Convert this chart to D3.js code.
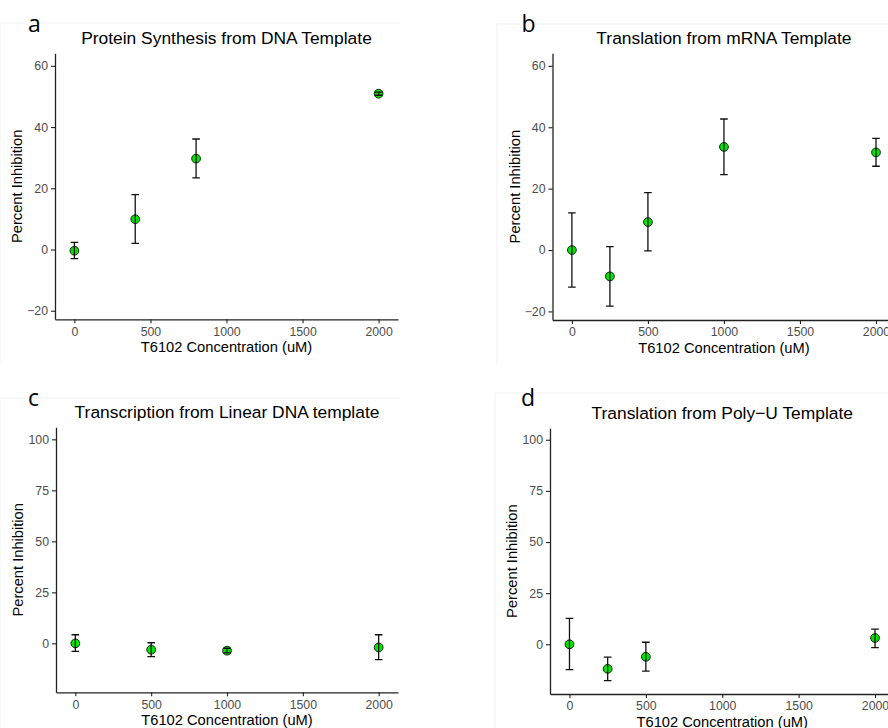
<!DOCTYPE html>
<html>
<head>
<meta charset="utf-8">
<title>T6102 inhibition</title>
<script src="https://cdn.jsdelivr.net/npm/d3@7"></script>
<style>
body { margin: 0; background: #fff; }
svg { display: block; font-family: "Liberation Sans", Arial, sans-serif; }
.tick text { fill: #4d4d4d; font-size: 12.3px; }
.tick line, .domain { stroke: #222; }
</style>
</head>
<body>
<svg id="fig" width="888" height="728"></svg>
<script>
// x ticks and y ticks
var xTicks = [0, 500, 1000, 1500, 2000];
var yTicksTop = [-20, 0, 20, 40, 60];
var yTicksBottom = [0, 25, 50, 75, 100];

// a: Protein Synthesis from DNA Template
var doseA = [0, 400, 800, 2000];
var meanA = [-0.4, 9.9, 29.7, 50.9];
var lowA  = [-3.0, 2.0, 23.4, 50.4];
var highA = [2.3, 17.9, 36.1, 51.4];

// b: Translation from mRNA Template
var doseB = [0, 250, 500, 1000, 2000];
var meanB = [0, -8.6, 9.1, 33.6, 31.8];
var lowB  = [-12.1, -18.3, -0.3, 24.6, 27.3];
var highB = [12.1, 1.1, 18.7, 42.7, 36.4];

// c: Transcription from Linear DNA template
var doseC = [0, 500, 1000, 2000];
var meanC = [0, -3.1, -3.6, -2.0];
var lowC  = [-3.9, -6.5, -4.7, -8.0];
var highC = [4.2, 0.3, -2.4, 4.2];

// d: Translation from Poly-U Template
var doseD = [0, 250, 500, 2000];
var meanD = [0, -12.0, -6.1, 3.1];
var lowD  = [-12.4, -17.8, -13.1, -1.6];
var highD = [12.7, -6.3, 1.0, 7.4];

var panels = [
	{ letter: "a", title: "Protein Synthesis from DNA Template", dose: doseA, mean: meanA, low: lowA, high: highA,
	  yDom: [-22.8, 64.1], yTicks: yTicksTop, left: 55, right: 398, top: 53.3, bottom: 319.3, lx: 28, ly: 31.7, fx: 0, fy: 23 },
	{ letter: "b", title: "Translation from mRNA Template", dose: doseB, mean: meanB, low: lowB, high: highB,
	  yDom: [-22.8, 64.1], yTicks: yTicksTop, left: 552.5, right: 895.4, top: 53.3, bottom: 320, lx: 521.5, ly: 31.7, fx: 497, fy: 24 },
	{ letter: "c", title: "Transcription from Linear DNA template", dose: doseC, mean: meanC, low: lowC, high: highC,
	  yDom: [-24, 105.9], yTicks: yTicksBottom, left: 56, right: 398, top: 427.3, bottom: 692.3, lx: 28, ly: 405.7, fx: 0, fy: 398 },
	{ letter: "d", title: "Translation from Poly\u2212U Template", dose: doseD, mean: meanD, low: lowD, high: highD,
	  yDom: [-24.3, 105.6], yTicks: yTicksBottom, left: 550, right: 894.5, top: 428.3, bottom: 694, lx: 521, ly: 405.7, fx: 495, fy: 393 }
];

var svg = d3.select("#fig");

function plainAxis(a) {
	a.attr("font-family", null).attr("font-size", null);
	a.selectAll(".domain").attr("stroke-width", 1.3);
	a.selectAll(".tick line").attr("stroke-width", 1.1);
}

panels.forEach(function(p) {
	// faint frame of the pasted sub-figure
	svg.append("path").attr("fill", "none").attr("stroke", "#f1f1f1").attr("stroke-width", 1)
		.attr("d", "M" + p.fx + "," + (p.fy + 340) + "V" + p.fy + "H" + (p.fx + 400));

	var x = d3.scaleLinear().domain([-127.5, 2127.5]).range([p.left, p.right]);
	var y = d3.scaleLinear().domain(p.yDom).range([p.bottom, p.top]);
	var g = svg.append("g");

	g.append("g").attr("transform", "translate(0," + p.bottom + ")")
		.call(d3.axisBottom(x).tickValues(xTicks).tickSize(4).tickPadding(3.5).tickSizeOuter(0)
			.tickFormat(d3.format("d")))
		.call(plainAxis);
	g.append("g").attr("transform", "translate(" + p.left + ",0)")
		.call(d3.axisLeft(y).tickValues(p.yTicks).tickSize(4).tickPadding(3).tickSizeOuter(0)
			.tickFormat(function(d) { return d < 0 ? "\u2212" + Math.abs(d) : d; }))
		.call(plainAxis);

	var cx = (p.left + p.right) / 2;
	svg.append("text").attr("x", cx).attr("y", p.top - 9).attr("text-anchor", "middle")
		.attr("font-size", 17.4).attr("fill", "#000").text(p.title);
	svg.append("text").attr("x", cx).attr("y", p.bottom + 32.5).attr("text-anchor", "middle")
		.attr("font-size", 14.7).attr("fill", "#000").text("T6102 Concentration (uM)");
	svg.append("text").attr("transform", "translate(" + (p.left - 33) + "," + ((p.top + p.bottom) / 2) + ") rotate(-90)")
		.attr("text-anchor", "middle").attr("font-size", 14.7).attr("fill", "#000").text("Percent Inhibition");
	svg.append("text").attr("x", p.lx).attr("y", p.ly).attr("font-family", "'Open Sans', sans-serif")
		.attr("font-size", 23).attr("fill", "#000").text(p.letter);

	var rows = p.dose.map(function(d, i) {
		return { dose: d, mean: p.mean[i], low: p.low[i], high: p.high[i] };
	});

	g.selectAll("circle.pt").data(rows).enter().append("circle").attr("class", "pt")
		.attr("cx", function(d) { return x(d.dose); })
		.attr("cy", function(d) { return y(d.mean); })
		.attr("r", 4.4)
		.attr("fill", "#00e600").attr("stroke", "#111").attr("stroke-width", 0.9);

	// error bars sit on top of the points, as in the original
	var bars = g.append("g").attr("stroke", "#111").attr("stroke-width", 1.3).attr("fill", "none");
	rows.forEach(function(r) {
		bars.append("path").attr("d",
			"M" + x(r.dose - 25) + "," + y(r.high) + "H" + x(r.dose + 25) +
			"M" + x(r.dose) + "," + y(r.high) + "V" + y(r.low) +
			"M" + x(r.dose - 25) + "," + y(r.low) + "H" + x(r.dose + 25));
	});
});
</script>
</body>
</html>
